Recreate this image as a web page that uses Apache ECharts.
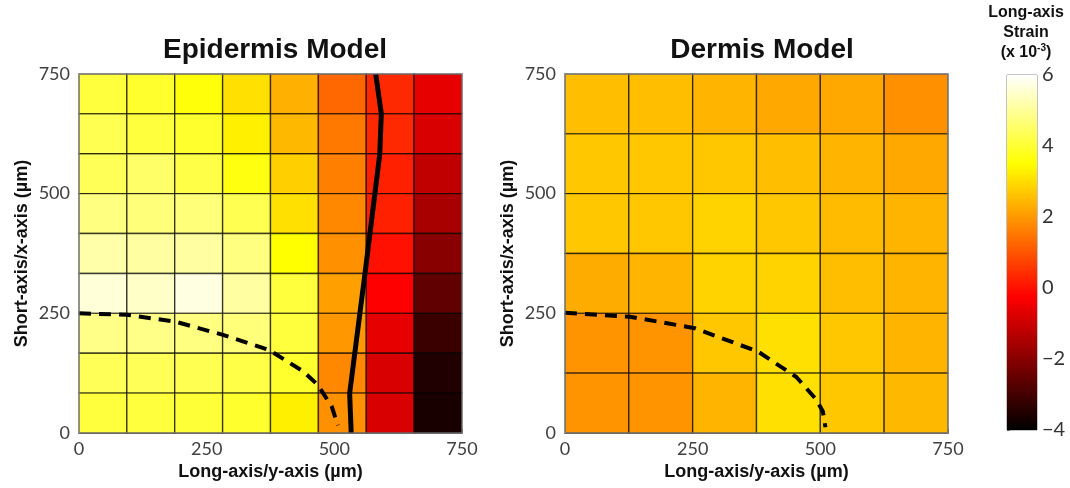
<!DOCTYPE html>
<html>
<head>
<meta charset="utf-8">
<script src="https://cdn.jsdelivr.net/npm/echarts@6/dist/echarts.min.js"></script>
<style>
  html, body { margin: 0; padding: 0; background: #fff; }
  #chart { width: 1070px; height: 488px; }
</style>
</head>
<body>
<div id="chart"></div>
<script>
// Long-axis strain (x 10^-3), rows listed from the top (750 µm) down to 0 µm.
const epidermisStrain = [
  [4.10, 3.95, 3.60, 3.05, 2.34, 1.28,  0.35, -0.60],
  [4.30, 4.10, 3.95, 3.28, 2.45, 1.51,  0.35, -0.83],
  [4.35, 4.52, 4.20, 3.65, 2.80, 1.63,  0.22, -1.18],
  [4.75, 4.68, 4.68, 4.30, 3.05, 1.75,  0.22, -1.53],
  [5.15, 5.07, 5.07, 4.75, 3.50, 1.87, -0.01, -2.00],
  [5.62, 5.45, 5.70, 5.07, 4.10, 2.10, -0.25, -2.59],
  [4.83, 4.83, 4.75, 4.68, 4.10, 1.98, -0.60, -3.15],
  [4.35, 4.35, 4.30, 4.20, 3.95, 1.75, -0.83, -3.53],
  [4.10, 4.10, 4.05, 3.95, 3.28, 1.87, -0.83, -3.65]
];
const dermisStrain = [
  [2.56, 2.56, 2.40, 2.22, 2.22, 1.87],
  [2.68, 2.68, 2.68, 2.56, 2.40, 2.22],
  [2.68, 2.68, 2.86, 2.68, 2.50, 2.40],
  [2.28, 2.40, 2.86, 2.86, 2.56, 2.40],
  [1.93, 1.93, 2.68, 3.05, 2.68, 2.40],
  [1.93, 1.93, 2.40, 3.05, 2.68, 2.45]
];

// Boundary curves (µm): [long-axis, short-axis]
const epidermisSolidLine = [[581, 750], [592, 667], [589, 583], [560, 333], [530, 83], [533, 0]];
const epidermisDashedLine = [[0, 250], [93, 247], [187, 233], [282, 205], [373, 173], [440, 128], [468, 100], [495, 55], [507, 16]];
const dermisDashedLine = [[0, 251], [127, 243], [254, 219], [378, 170], [453, 117], [492, 70], [505, 45], [510, 12]];

const axisExtent = 750;
const strainMin = -4, strainMax = 6, strainStep = 2;

// MATLAB "hot" colormap sampled at even steps
const hotColors = ['#000000', '#550000', '#aa0000', '#ff0000', '#ff5500', '#ffaa00', '#ffff00', '#ffff80', '#ffffff'];

function toCells(rows) {
  const nRows = rows.length, nCols = rows[0].length;
  const dx = axisExtent / nCols, dy = axisExtent / nRows;
  const out = [];
  rows.forEach((row, r) => {
    const y1 = axisExtent - r * dy, y0 = y1 - dy;
    row.forEach((v, c) => out.push([c * dx, (c + 1) * dx, y0, y1, v]));
  });
  return out;
}

function renderCell(params, api) {
  const tl = api.coord([api.value(0), api.value(3)]);
  const br = api.coord([api.value(1), api.value(2)]);
  return {
    type: 'rect',
    shape: { x: tl[0], y: tl[1], width: br[0] - tl[0], height: br[1] - tl[1] },
    style: { fill: api.visual('color'), stroke: 'rgba(0,0,0,0.65)', lineWidth: 1.4 }
  };
}

const tickFont = { fontFamily: 'Lato', fontSize: 18, color: '#404040' };
const nameFont = { fontFamily: 'Liberation Sans', fontWeight: 'bold', fontSize: 18, color: '#111' };

function xAxisFor(gridIndex) {
  return {
    type: 'value', gridIndex, min: 0, max: axisExtent, interval: 250,
    name: 'Long-axis/y-axis (µm)', nameLocation: 'middle', nameGap: 24, nameTextStyle: nameFont,
    axisLine: { show: true, lineStyle: { color: '#777' } },
    axisTick: { show: true, inside: true, length: 4, lineStyle: { color: '#777' } },
    axisLabel: Object.assign({ margin: 7 }, tickFont),
    splitLine: { show: false }
  };
}
function yAxisFor(gridIndex) {
  return {
    type: 'value', gridIndex, min: 0, max: axisExtent, interval: 250,
    name: 'Short-axis/x-axis (µm)', nameLocation: 'middle', nameGap: 48, nameRotate: 90, nameTextStyle: nameFont,
    axisLine: { show: true, lineStyle: { color: '#777' } },
    axisTick: { show: true, inside: true, length: 4, lineStyle: { color: '#777' } },
    axisLabel: Object.assign({ margin: 9 }, tickFont),
    splitLine: { show: false }
  };
}

const titleFont = { fontFamily: 'Liberation Sans', fontWeight: 'bold', fontSize: 28, color: '#111' };
const barTitleFont = { fontFamily: 'Liberation Sans', fontWeight: 'bold', fontSize: 16, color: '#111', lineHeight: 20 };

const chart = echarts.init(document.getElementById('chart'), null, { renderer: 'canvas' });

chart.setOption({
  backgroundColor: '#fff',
  animation: false,
  title: [
    { text: 'Epidermis Model', left: 270, top: 31, textAlign: 'center', textStyle: titleFont },
    { text: 'Dermis Model', left: 757, top: 31, textAlign: 'center', textStyle: titleFont },
    { text: 'Long-axis\nStrain\n{p|(x 10}{s|-3}{p|)}', left: 1026, top: 3, padding: 0, textAlign: 'center',
      textStyle: Object.assign({}, barTitleFont, {
        rich: {
          p: barTitleFont,
          s: { fontFamily: 'Liberation Sans', fontWeight: 'bold', fontSize: 10, color: '#111', verticalAlign: 'top', lineHeight: 20, padding: [0, 0, 7, 0] }
        } }) }
  ],
  grid: [
    { left: 79, top: 74, width: 383, height: 359, show: true, borderColor: '#999', borderWidth: 1, backgroundColor: 'transparent', z: 5 },
    { left: 565, top: 74, width: 383, height: 359, show: true, borderColor: '#999', borderWidth: 1, backgroundColor: 'transparent', z: 5 },
    { left: 1007, top: 75, width: 30, height: 355, show: true, borderColor: '#888', borderWidth: 1, backgroundColor: 'transparent' }
  ],
  xAxis: [
    xAxisFor(0),
    xAxisFor(1),
    { type: 'value', gridIndex: 2, min: 0, max: 1, show: false }
  ],
  yAxis: [
    yAxisFor(0),
    yAxisFor(1),
    { type: 'value', gridIndex: 2, min: strainMin, max: strainMax, interval: strainStep, position: 'right',
      axisLine: { show: false },
      axisTick: { show: true, inside: false, length: 3, lineStyle: { color: '#666' } },
      axisLabel: { margin: 5, fontFamily: 'Lato', fontSize: 20, color: '#333',
        formatter: v => String(v).replace('-', '\u2212') },
      splitLine: { show: false } }
  ],
  visualMap: {
    type: 'continuous', show: false, min: strainMin, max: strainMax,
    dimension: 4, seriesIndex: [0, 1],
    inRange: { color: hotColors }
  },
  series: [
    { type: 'custom', xAxisIndex: 0, yAxisIndex: 0, renderItem: renderCell,
      encode: { x: [0, 1], y: [2, 3] }, data: toCells(epidermisStrain), z: 1 },
    { type: 'custom', xAxisIndex: 1, yAxisIndex: 1, renderItem: renderCell,
      encode: { x: [0, 1], y: [2, 3] }, data: toCells(dermisStrain), z: 1 },
    { type: 'line', xAxisIndex: 0, yAxisIndex: 0, data: epidermisSolidLine, showSymbol: false, z: 3,
      lineStyle: { color: '#000', width: 5 } },
    { type: 'line', xAxisIndex: 0, yAxisIndex: 0, data: epidermisDashedLine, showSymbol: false, z: 3,
      lineStyle: { color: '#000', width: 4, type: [12, 8] } },
    { type: 'line', xAxisIndex: 1, yAxisIndex: 1, data: dermisDashedLine, showSymbol: false, z: 3,
      lineStyle: { color: '#000', width: 4, type: [12, 8] } },
    // colour bar
    { type: 'custom', xAxisIndex: 2, yAxisIndex: 2, data: [[0]], silent: true,
      renderItem: (params, api) => {
        const top = api.coord([0, strainMax]);
        const bottom = api.coord([1, strainMin]);
        return {
          type: 'rect',
          shape: { x: top[0], y: top[1], width: bottom[0] - top[0], height: bottom[1] - top[1] },
          style: { fill: new echarts.graphic.LinearGradient(0, 1, 0, 0, [
            { offset: 0, color: '#000000' },
            { offset: 0.375, color: '#ff0000' },
            { offset: 0.75, color: '#ffff00' },
            { offset: 1, color: '#ffffff' }
          ]) }
        };
      } }
  ]
});
</script>
</body>
</html>
